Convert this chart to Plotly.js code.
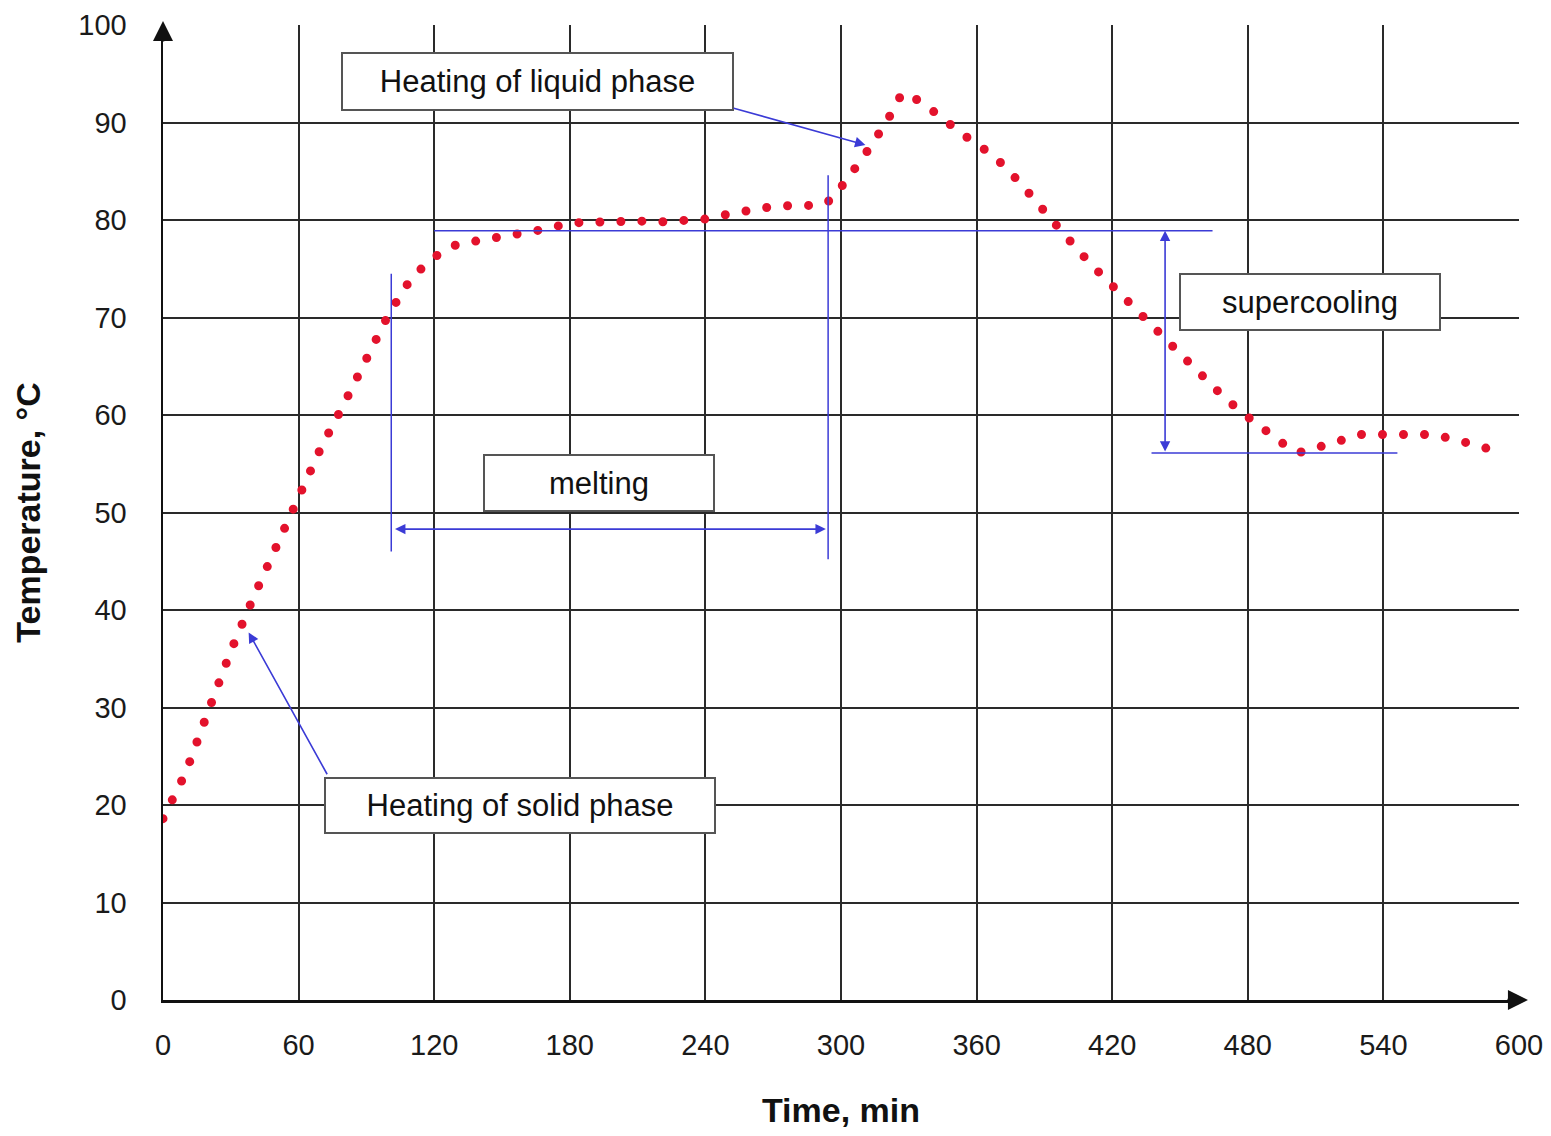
<!DOCTYPE html>
<html><head><meta charset="utf-8">
<script src="https://cdn.plot.ly/plotly-3.0.1.min.js"></script>
<style>
body{margin:0;background:#fff;}
#chart{width:1551px;height:1136px;}
.scatterlayer .js-line{stroke-linecap:round !important;}
</style></head><body><div id="chart"></div>
<script>
// Time (min) and temperature (°C)
const timeMin = [0,10,20,30,40,50,60,70,80,90,100,110,120,130,140,150,160,170,180,190,200,210,220,230,240,250,260,270,280,290,296,300,310,320,327,335,345,355,365,372,380,390,400,410,420,430,440,450,460,470,480,490,500,504,510,520,530,540,550,560,570,580,590];
const tempC   = [18.6,23.3,29.6,35.8,41.3,46.5,51.9,56.7,61.1,65.7,70.4,74.1,76.2,77.5,77.9,78.1,78.7,79.1,79.7,79.8,79.9,79.9,79.8,79.9,80.1,80.6,81.0,81.4,81.5,81.5,82.1,83.3,86.5,90.0,93.0,92.2,90.3,88.6,87.0,85.6,83.6,80.8,78.2,75.6,73.2,70.8,68.7,66.3,64.0,61.7,59.8,58.0,56.3,56.2,56.6,57.4,58.0,58.0,58.0,58.0,57.6,57.0,56.3];

const xTicks = [0,60,120,180,240,300,360,420,480,540,600];
const yTicks = [0,10,20,30,40,50,60,70,80,90,100];

// annotation labels
const labelLiquid = "Heating of liquid phase";
const labelSolid = "Heating of solid phase";
const labelMelting = "melting";
const labelSuper = "supercooling";

// annotation guide levels
const meltLevel = 78.9;      // horizontal guide line
const meltStart = 101;       // start of melting
const meltEnd = 294.3;       // end of melting
const superBottom = 56.1;    // lowest temperature after supercooling
const superX = 443.4;

const FONT = "Liberation Sans, Arial, sans-serif";
const BLUE = "#3b3bd6";

const trace = {
  x: timeMin, y: tempC, type: "scatter", mode: "lines",
  line: {color: "#e3122c", width: 9, dash: "0px,21px"},
  hoverinfo: "x+y", showlegend: false
};

function boxAnn(text, x, y, w, h) {
  return {x: x, y: y, xref: "x", yref: "y", text: text, showarrow: false,
    font: {family: FONT, size: 31, color: "#111"},
    bgcolor: "#ffffff", bordercolor: "#555555", borderwidth: 2, borderpad: 0,
    width: w - 4, height: h - 4, align: "center", valign: "middle"};
}
function arrowAnn(x, y, ax, ay, both) {
  return {x: x, y: y, ax: ax, ay: ay, xref: "x", yref: "y", axref: "x", ayref: "y",
    text: "", showarrow: true, arrowhead: 2, arrowsize: 1.3, arrowwidth: 1.6,
    arrowcolor: BLUE, arrowside: both ? "end+start" : "end", standoff: 0, startstandoff: 0};
}

const shapes = [
  {type: "line", xref: "x", yref: "y", x0: 120, x1: 464.4, y0: meltLevel, y1: meltLevel, line: {color: BLUE, width: 1.5}},
  {type: "line", xref: "x", yref: "y", x0: meltStart, x1: meltStart, y0: 46.0, y1: 74.5, line: {color: BLUE, width: 1.5}},
  {type: "line", xref: "x", yref: "y", x0: meltEnd, x1: meltEnd, y0: 45.2, y1: 84.6, line: {color: BLUE, width: 1.5}},
  {type: "line", xref: "x", yref: "y", x0: 437.4, x1: 546.2, y0: superBottom, y1: superBottom, line: {color: BLUE, width: 1.5}}
];

const annotations = [
  boxAnn(labelLiquid, 165.9, 94.2, 393, 59),
  boxAnn(labelSolid, 157.9, 20.0, 392, 57),
  boxAnn(labelMelting, 193.0, 53.0, 232, 58),
  boxAnn(labelSuper, 507.5, 71.6, 262, 58),
  arrowAnn(310.8, 87.7, 251.9, 91.5, false),
  arrowAnn(37.9, 37.7, 73.0, 23.0, false),
  arrowAnn(meltEnd - 1, 48.3, meltStart + 1, 48.3, true),
  arrowAnn(superX, meltLevel, superX, superBottom, true),
  // axis arrows
  {xref: "paper", yref: "paper", x: 0, y: 1.0041, ax: 0, ay: 22, axref: "pixel", ayref: "pixel",
   text: "", showarrow: true, arrowhead: 2, arrowsize: 1.6, arrowwidth: 2.5, arrowcolor: "#111", standoff: 0},
  {xref: "paper", yref: "paper", x: 1.0066, y: 0, ax: -22, ay: 0,
   text: "", showarrow: true, arrowhead: 2, arrowsize: 1.6, arrowwidth: 2.5, arrowcolor: "#111", standoff: 0}
];

const layout = {
  width: 1551, height: 1136,
  margin: {l: 163, r: 32, t: 25, b: 136},
  paper_bgcolor: "#fff", plot_bgcolor: "#fff",
  font: {family: FONT, color: "#1a1a1a"},
  xaxis: {
    range: [0, 600], tickvals: xTicks, ticktext: xTicks.map(String),
    showgrid: true, gridcolor: "#2a2a2a", gridwidth: 2,
    showline: true, linecolor: "#111", linewidth: 2.5, zeroline: false,
    ticks: "", ticklabelstandoff: 18,
    tickfont: {family: FONT, size: 29, color: "#1a1a1a"},
    title: {text: "<b>Time, min</b>", font: {family: FONT, size: 34, color: "#111"}, standoff: 38}
  },
  yaxis: {
    range: [0, 100], tickvals: yTicks, ticktext: yTicks.map(String),
    showgrid: true, gridcolor: "#2a2a2a", gridwidth: 2,
    showline: true, linecolor: "#111", linewidth: 2.5, zeroline: false,
    ticks: "", ticklabelstandoff: 28,
    tickfont: {family: FONT, size: 29, color: "#1a1a1a"},
    title: {text: "<b>Temperature, °C</b>", font: {family: FONT, size: 34, color: "#111"}, standoff: 28}
  },
  shapes: shapes,
  annotations: annotations,
  showlegend: false
};

Plotly.newPlot("chart", [trace], layout, {staticPlot: true, displayModeBar: false});
</script></body></html>
